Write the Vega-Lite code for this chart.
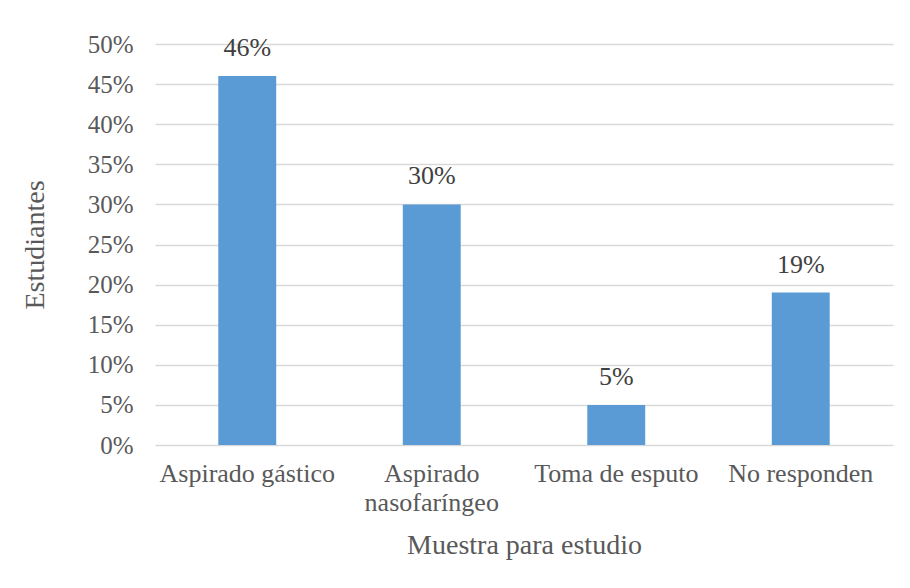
{
  "$schema": "https://vega.github.io/schema/vega-lite/v6.json",
  "autosize": {"type": "none"},
  "width": 738,
  "height": 401,
  "padding": {"left": 155, "top": 44, "right": 17, "bottom": 143},
  "background": "white",
  "data": {"values": [
    {"muestra": "Aspirado gástico", "valor": 0.46},
    {"muestra": "Aspirado nasofaríngeo", "valor": 0.30},
    {"muestra": "Toma de esputo", "valor": 0.05},
    {"muestra": "No responden", "valor": 0.19}
  ]},
  "config": {
    "view": {"stroke": null},
    "font": "Liberation Serif",
    "axis": {"labelFont": "Liberation Serif", "titleFont": "Liberation Serif", "labelColor": "#595959", "titleColor": "#595959", "titleFontWeight": "normal"}
  },
  "encoding": {
    "x": {"field": "muestra", "type": "nominal", "sort": null,
      "scale": {"paddingInner": 0.686, "paddingOuter": 0.343},
      "axis": {"title": "Muestra para estudio", "labelAngle": 0, "labelFontSize": 26, "titleFontSize": 28,
        "labelPadding": 15, "titlePadding": 16, "ticks": false, "domain": false, "labelLineHeight": 29,
        "labelExpr": "datum.label == 'Aspirado nasofaríngeo' ? ['Aspirado', 'nasofaríngeo'] : datum.label"}},
    "y": {"field": "valor", "type": "quantitative",
      "scale": {"domain": [0, 0.5]},
      "axis": {"title": "Estudiantes", "format": ".0%", "values": [0, 0.05, 0.1, 0.15, 0.2, 0.25, 0.3, 0.35, 0.4, 0.45, 0.5],
        "labelFontSize": 25, "titleFontSize": 28, "labelPadding": 22, "titlePadding": 38, "ticks": false, "domain": false,
        "grid": true, "gridColor": "#d9d9d9", "gridWidth": 1.5}}
  },
  "layer": [
    {"mark": {"type": "bar", "color": "#5B9BD5"}},
    {"mark": {"type": "text", "baseline": "bottom", "dy": -15, "fontSize": 26, "color": "#404040", "font": "Liberation Serif"},
     "encoding": {"text": {"field": "valor", "type": "quantitative", "format": ".0%"}}}
  ]
}
